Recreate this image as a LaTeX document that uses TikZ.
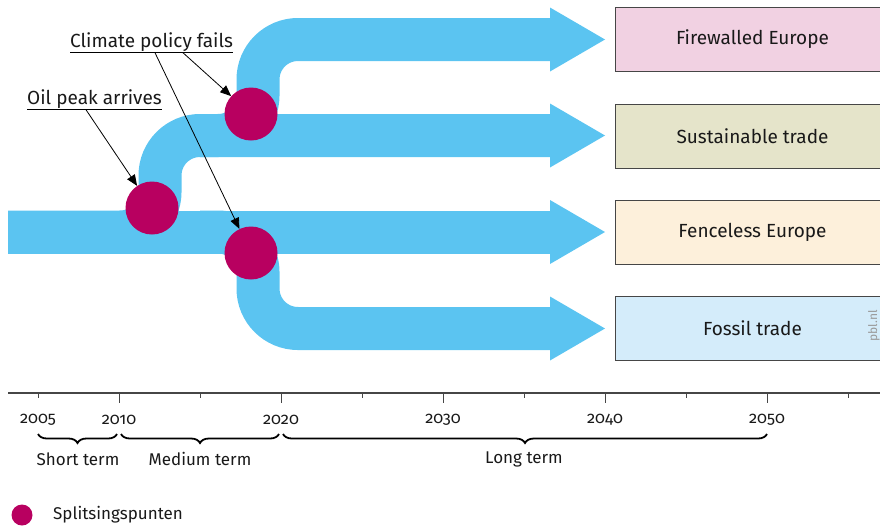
\documentclass[tikz,border=0pt]{standalone}
\usepackage{fontspec}
\setmainfont{Fira Sans}
\newfontfamily\yearfont[Numbers=OldStyle]{Fira Sans}
\usetikzlibrary{arrows.meta,decorations.pathreplacing,calc}
\definecolor{flowc}{RGB}{91,196,241}
\definecolor{magc}{RGB}{184,0,96}
\definecolor{fwc}{RGB}{241,209,226}
\definecolor{stc}{RGB}{229,228,202}
\definecolor{fec}{RGB}{253,240,219}
\definecolor{foc}{RGB}{212,236,250}
\definecolor{axc}{RGB}{70,70,70}
\definecolor{txtc}{RGB}{25,25,25}
\begin{document}
\begin{tikzpicture}[x=1pt,y=-1pt,
  flow/.style={draw=flowc, line width=43pt, rounded corners=40pt},
  split/.style={circle, fill=magc, minimum size=53pt, inner sep=0pt},
  scen/.style={draw=axc, line width=1pt, minimum width=274pt, minimum height=64pt, anchor=west, inner sep=0pt, font=\fontsize{19}{22}\selectfont, text=txtc},
  lbl/.style={inner xsep=0pt, inner ysep=1.5pt, font=\fontsize{19}{22}\selectfont, text=txtc},
  ptr/.style={draw=black, line width=0.8pt, -{Triangle[length=11pt,width=9pt]}},
  yr/.style={font=\yearfont\fontsize{16.3}{19}\selectfont, text=txtc},
  term/.style={font=\fontsize{17}{20}\selectfont, text=txtc},
  brc/.style={draw=black, line width=1.8pt, decorate, decoration={brace, mirror, amplitude=9pt}},
  head/.pic={\fill[flowc] (0,-32) -- (55,0) -- (0,32) -- cycle;}
]
\useasboundingbox (0,0) rectangle (880,528);

% flows
\draw[flow] (8,232) -- (551,232);
\draw[flow] (8,232) -- (160,232) -- (160,135.5) -- (551,135.5);
\draw[flow] (200,135.5) -- (258,135.5) -- (258,39.5) -- (551,39.5);
\draw[flow] (200,232) -- (258,232) -- (258,328.5) -- (551,328.5);
\pic at (550,39.5) {head};
\pic at (550,135.5) {head};
\pic at (550,232) {head};
\pic at (550,328.5) {head};

% scenario boxes
\node[scen, fill=fwc] (fw) at (615,39) {Firewalled Europe};
\node[scen, fill=stc] (st) at (615,136) {Sustainable trade};
\node[scen, fill=fec] (fe) at (615,232) {Fenceless Europe};
\node[scen, fill=foc] (fo) at (615,328.5) {Fossil trade};
\node[rotate=90, text=gray!80, font=\fontsize{12}{14}\selectfont, inner sep=0pt] (pbl) at (874,326) {pbl.nl};

% split points
\node[split] (s1) at (152,208) {};
\node[split] (s2) at (251,114) {};
\node[split] (s3) at (251,253) {};

% labels
\node[lbl, anchor=base west] (cpf) at (70,47) {Climate policy fails};
\draw[line width=0.8pt] (cpf.south west) -- (cpf.south east);
\node[lbl, anchor=base west] (opa) at (27,104) {Oil peak arrives};
\draw[line width=0.8pt] (opa.south west) -- (opa.south east);
\coordinate (cpfa) at ($(cpf.south west)+(113,0)$);
\coordinate (cpfb) at ($(cpf.south west)+(85,0)$);
\coordinate (opaa) at ($(opa.south west)+(59,0)$);
\draw[ptr] (cpfa) -- (s2);
\draw[ptr] (cpfb) -- (s3);
\draw[ptr] (opaa) -- (s1);

% time axis
\draw[draw=axc, line width=1.3pt] (8,393) -- (880,393);
\foreach \x in {38,200,362,524,686,848} \draw[draw=axc, line width=1pt] (\x,393) -- (\x,398);
\foreach \x in {119,281,443,605,767} \draw[draw=axc, line width=1pt] (\x,393) -- (\x,403);
\node[yr] (y05) at (38,420) {2005};
\node[yr] (y10) at (119,420) {2010};
\node[yr] (y20) at (281,420) {2020};
\node[yr] (y30) at (443,420) {2030};
\node[yr] (y40) at (605,420) {2040};
\node[yr] (y50) at (767,420) {2050};

\coordinate (b1) at (38,434);
\coordinate (b2) at (117,434);
\coordinate (b3) at (121,434);
\coordinate (b4) at (279,434);
\coordinate (b5) at (283,434);
\coordinate (b6) at (767,434);
\draw[brc] (b1) -- (b2);
\draw[brc] (b3) -- (b4);
\draw[brc] (b5) -- (b6);
\node[term] (tshort) at (78,459) {Short term};
\node[term] (tmed) at (200,459) {Medium term};
\node[term] (tlong) at (524,459) {Long term};

% legend
\node[circle, fill=magc, minimum size=21pt, inner sep=0pt] (lg) at (22,515) {};
\node[term, anchor=west, inner sep=0pt] (lgt) at (53,515) {Splitsingspunten};
\end{tikzpicture}
\end{document}
